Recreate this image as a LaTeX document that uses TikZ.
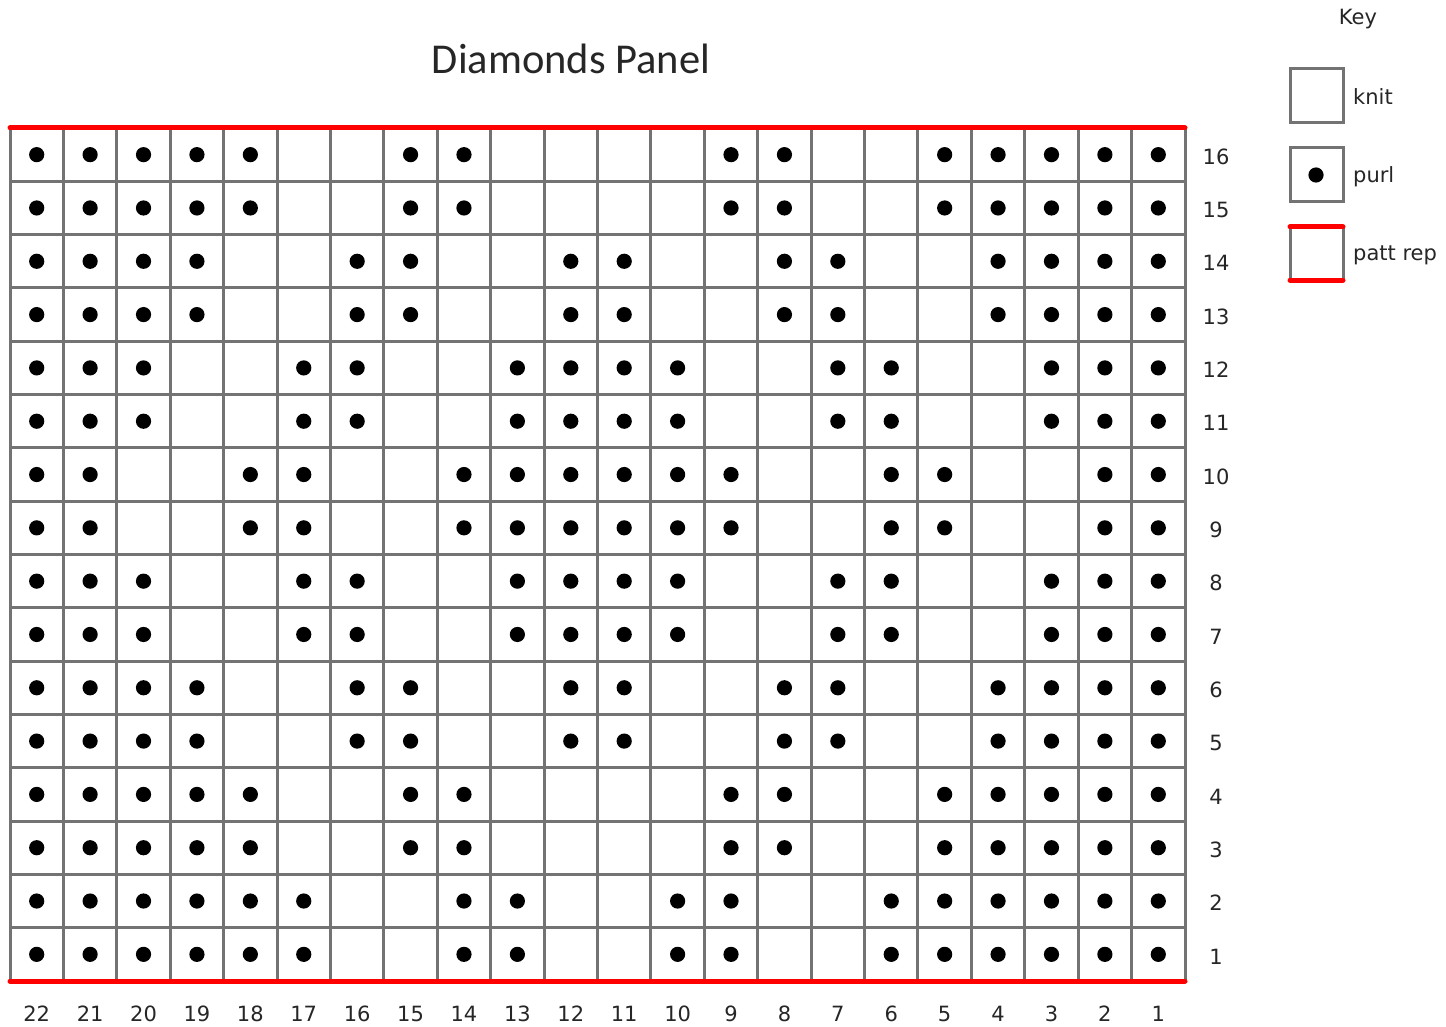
\documentclass[tikz,border=0pt]{standalone}
\usepackage{fontspec}
\setmainfont{DejaVu Sans}
\newfontfamily\titlefont{Carlito}
\begin{document}
\begin{tikzpicture}[x=1pt,y=-1pt,
  gridline/.style={draw=black!55, line width=3pt},
  repline/.style={draw=red, line width=5pt, line cap=round},
  purldot/.style={fill=black, draw=none},
  numlabel/.style={font=\fontsize{21}{24}\selectfont, text=black!85, inner sep=0pt},
  keylabel/.style={font=\fontsize{21}{24}\selectfont, text=black!85, anchor=west, inner sep=0pt},
  keybox/.style={draw=black!55, line width=3pt}]
\useasboundingbox[fill=white] (0,0) rectangle (1446,1027);
\def\xa{10}\def\ya{128}\def\cw{53.409}\def\ch{53.3125}
% title
\node[font=\titlefont\fontsize{42.5}{48}\selectfont, text=black!85, inner sep=0pt] (title) at (571,59) {Diamonds Panel};
% grid
\foreach \i in {0,...,22} \draw[gridline] ({\xa+\i*\cw},\ya) -- ({\xa+\i*\cw},981);
\foreach \j in {0,...,16} \draw[gridline] (\xa,{\ya+\j*\ch}) -- (1185,{\ya+\j*\ch});
% purl dots
\foreach \r/\cols in {
  16/{1,2,3,4,5,8,9,14,15,18,19,20,21,22},
  15/{1,2,3,4,5,8,9,14,15,18,19,20,21,22},
  14/{1,2,3,4,7,8,11,12,15,16,19,20,21,22},
  13/{1,2,3,4,7,8,11,12,15,16,19,20,21,22},
  12/{1,2,3,6,7,10,11,12,13,16,17,20,21,22},
  11/{1,2,3,6,7,10,11,12,13,16,17,20,21,22},
  10/{1,2,5,6,9,10,11,12,13,14,17,18,21,22},
  9/{1,2,5,6,9,10,11,12,13,14,17,18,21,22},
  8/{1,2,3,6,7,10,11,12,13,16,17,20,21,22},
  7/{1,2,3,6,7,10,11,12,13,16,17,20,21,22},
  6/{1,2,3,4,7,8,11,12,15,16,19,20,21,22},
  5/{1,2,3,4,7,8,11,12,15,16,19,20,21,22},
  4/{1,2,3,4,5,8,9,14,15,18,19,20,21,22},
  3/{1,2,3,4,5,8,9,14,15,18,19,20,21,22},
  2/{1,2,3,4,5,6,9,10,13,14,17,18,19,20,21,22},
  1/{1,2,3,4,5,6,9,10,13,14,17,18,19,20,21,22}} {
  \foreach \c in \cols {
    \fill[purldot] ({\xa+(\c-0.5)*\cw},{\ya+(16-\r+0.5)*\ch}) circle (7.6);
  }
}
% repeat lines
\draw[repline] (\xa,\ya) -- (1185,\ya);
\draw[repline] (\xa,981) -- (1185,981);
% row numbers
\foreach \r in {1,...,16}
  \node[numlabel] (row\r) at (1216,{\ya+(16-\r+0.5)*\ch+2}) {\r};
% column numbers
\foreach \c in {1,...,22}
  \node[numlabel] (col\c) at ({\xa+(22-\c+0.5)*\cw},1014) {\c};
% key
\node[numlabel] (key) at (1358,19) {Key};
\draw[keybox] (1290,69) rectangle (1343,123);
\node[keylabel] (knit) at (1353,97) {knit};
\draw[keybox] (1290,148) rectangle (1343,202);
\fill[purldot] (1316,175) circle (7.6);
\node[keylabel] (purl) at (1353,177) {purl};
\draw[keybox] (1290,227) rectangle (1343,280);
\draw[repline] (1290,227) -- (1343,227);
\draw[repline] (1290,280) -- (1343,280);
\node[keylabel] (pattrep) at (1353,255) {patt rep};
\end{tikzpicture}
\end{document}
